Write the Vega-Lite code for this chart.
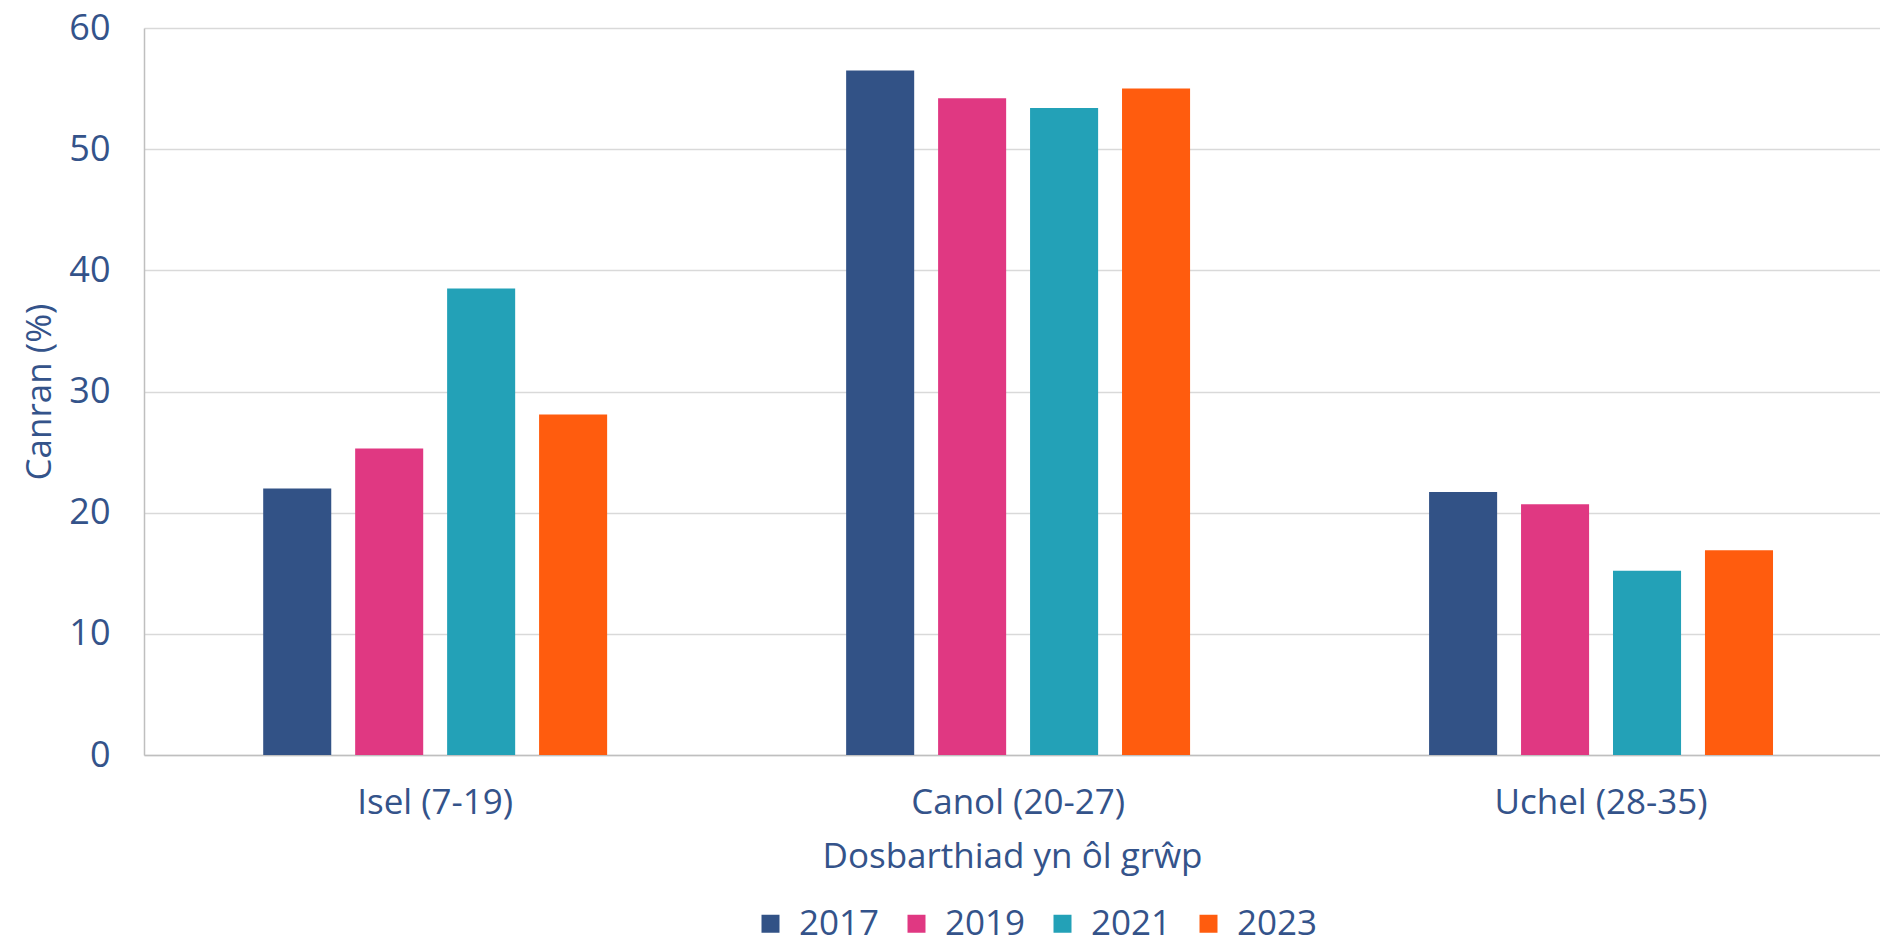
{
  "$schema": "https://vega.github.io/schema/vega-lite/v6.json",
  "width": 1736,
  "height": 727,
  "autosize": "none",
  "padding": {"left": 144, "top": 28, "right": 0, "bottom": 189},
  "background": "white",
  "data": {
    "values": [
      {"group": "Isel (7-19)", "year": "2017", "value": 22.0},
      {"group": "Isel (7-19)", "year": "2019", "value": 25.3},
      {"group": "Isel (7-19)", "year": "2021", "value": 38.5},
      {"group": "Isel (7-19)", "year": "2023", "value": 28.1},
      {"group": "Canol (20-27)", "year": "2017", "value": 56.5},
      {"group": "Canol (20-27)", "year": "2019", "value": 54.2},
      {"group": "Canol (20-27)", "year": "2021", "value": 53.4},
      {"group": "Canol (20-27)", "year": "2023", "value": 55.0},
      {"group": "Uchel (28-35)", "year": "2017", "value": 21.7},
      {"group": "Uchel (28-35)", "year": "2019", "value": 20.7},
      {"group": "Uchel (28-35)", "year": "2021", "value": 15.2},
      {"group": "Uchel (28-35)", "year": "2023", "value": 16.9}
    ]
  },
  "mark": {"type": "bar"},
  "encoding": {
    "x": {
      "field": "group",
      "type": "nominal",
      "sort": ["Isel (7-19)", "Canol (20-27)", "Uchel (28-35)"],
      "scale": {"paddingInner": 0.41, "paddingOuter": 0.194, "align": 0.527},
      "axis": {
        "title": "Dosbarthiad yn ôl grŵp",
        "labelAngle": 0,
        "labelFontSize": 35,
        "labelPadding": 30,
        "labelLimit": 0,
        "titleFontSize": 35,
        "titlePadding": 19,
        "ticks": false,
        "grid": false,
        "domainColor": "#bfbfbf",
        "domainWidth": 1.5
      }
    },
    "xOffset": {
      "field": "year",
      "type": "nominal",
      "scale": {"paddingInner": 0.26, "paddingOuter": 0}
    },
    "y": {
      "field": "value",
      "type": "quantitative",
      "scale": {"domain": [0, 60], "nice": false},
      "axis": {
        "title": "Canran (%)",
        "values": [0, 10, 20, 30, 40, 50, 60],
        "labelFontSize": 36,
        "labelPadding": 34,
        "titleFontSize": 35,
        "titlePadding": 11,
        "ticks": false,
        "grid": true,
        "gridColor": "#d9d9d9",
        "gridWidth": 1.5,
        "domainColor": "#bfbfbf",
        "domainWidth": 1.5
      }
    },
    "color": {
      "field": "year",
      "type": "nominal",
      "scale": {
        "domain": ["2017", "2019", "2021", "2023"],
        "range": ["#325286", "#E03882", "#23A1B7", "#FF5C0E"]
      },
      "legend": {
        "title": null,
        "orient": "none",
        "legendX": 609,
        "legendY": 878,
        "direction": "horizontal",
        "symbolType": "square",
        "symbolSize": 324,
        "symbolStrokeWidth": 0,
        "labelFontSize": 35,
        "labelOffset": 11,
        "columnPadding": 19,
        "padding": 0
      }
    }
  },
  "config": {
    "view": {"stroke": null},
    "font": "Open Sans",
    "axis": {
      "labelFont": "Open Sans",
      "titleFont": "Open Sans",
      "labelColor": "#34538A",
      "titleColor": "#34538A",
      "titleFontWeight": "normal"
    },
    "legend": {
      "labelFont": "Open Sans",
      "labelColor": "#34538A"
    }
  }
}
